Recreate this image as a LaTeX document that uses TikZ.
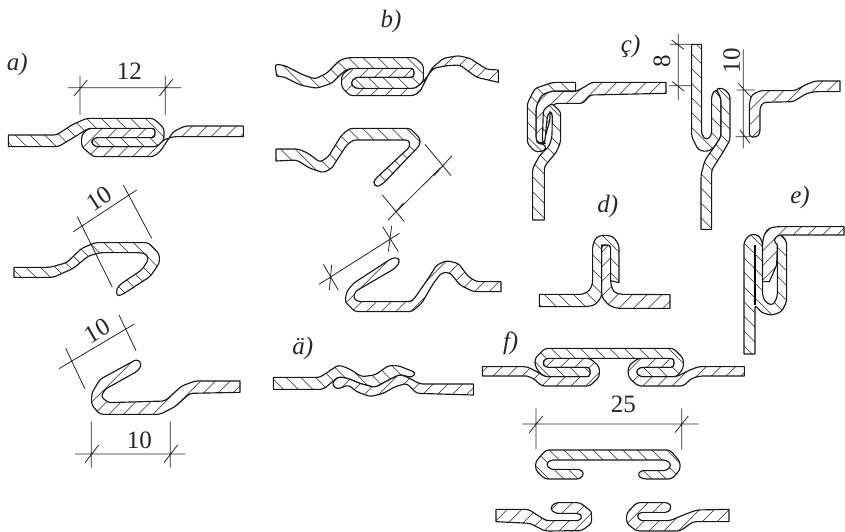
\documentclass[tikz,border=0pt]{standalone}
\usepackage{fontspec}
\setmainfont{Liberation Serif}
\tikzset{
  strip/.style={draw=black!90,fill=white,line width=1.15pt,line join=round,rounded corners=3pt},
  hl/.style={line width=.55pt,draw=black!85,sharp corners},
  ha/.style={strip,path picture={\foreach \k in {-16,...,16} \draw[hl,shift={(path picture bounding box.center)}] ({\k*44-500},-500) -- ({\k*44+500},500);}},
  hb/.style={strip,path picture={\foreach \k in {-16,...,16} \draw[hl,shift={(path picture bounding box.center)}] ({\k*44-500},500) -- ({\k*44+500},-500);}},
  dim/.style={draw=black!85,line width=.8pt},
  num/.style={font=\fontsize{25}{25}\selectfont,inner sep=0pt,text=black!85},
  tag/.style={font=\fontsize{25}{25}\selectfont\itshape,inner sep=0pt,text=black!85},
  zoomed/.style n args={2}{x=.33333pt,y=-.33333pt,shift={(#1*3,#2*3)}}
}
\def\sc{[sharp corners]}
\begin{document}
\begin{tikzpicture}[x=1pt,y=-1pt]
\useasboundingbox (0,0) rectangle (845,532);
% ---------- a) zoom (0,40)
\begin{scope}[zoomed={0}{40}]
\draw[hb] (730,258) -- (555,258) -- (520,275) -- (480,335) -- (460,350) -- (280,350) -- (245,320) -- (245,285) -- (265,265) -- (465,265) -- (465,293) -- (285,293) -- (272,305) -- (285,320) -- (470,320) -- (490,300) -- (520,290) -- (540,290) \sc -- (730,290) -- cycle;
\draw[ha] (25,285) -- (170,285) -- (215,255) -- (260,235) -- (460,235) -- (492,265) -- (492,300) -- (470,320) -- (285,320) -- (272,305) -- (285,293) -- (465,293) -- (465,265) -- (265,265) -- (225,290) -- (175,320) \sc -- (25,320) -- cycle;
\draw[dim] (205,143) -- (543,143) (240,107) -- (240,225) (496,107) -- (496,225) (222,168) -- (262,120) (478,168) -- (518,118);
\node[num] (n12) at (388,93) {12};
\node[tag] (la) at (52,72) {a)};
\end{scope}
% ---------- a) hooks zoom (0,180)
\begin{scope}[zoomed={0}{180}]
\draw[ha] (42,262) -- (150,262) -- (200,248) -- (245,205) -- (285,188) -- (445,188) -- (478,222) -- (478,250) -- (450,290) -- (365,345) -- (350,348) -- (350,325) -- (365,310) -- (425,270) -- (445,240) -- (440,222) -- (420,218) -- (300,218) -- (265,228) -- (220,265) -- (160,292) \sc -- (42,292) -- cycle;
\draw[dim] (220,155) -- (410,30) (232,110) -- (337,322) (370,15) -- (455,175);
\node[num,rotate=33] (n10a) at (298,55) {10};
\draw[hb] (720,603) -- (585,603) -- (545,618) -- (495,663) -- (325,668) -- (303,650) -- (315,628) -- (415,572) -- (425,552) -- (412,537) -- (300,598) -- (275,640) -- (275,675) -- (300,703) -- (480,703) -- (525,680) -- (570,640) \sc -- (720,637) -- cycle;
\draw[dim] (177,566) -- (403,432) (197,505) -- (255,627) (357,405) -- (408,512);
\node[num,rotate=30] (n10b) at (293,452) {10};
\draw[dim] (225,822) -- (555,822) (274,725) -- (274,863) (511,725) -- (511,863) (255,848) -- (296,795) (492,848) -- (533,795);
\node[num] (n10c) at (418,780) {10};
\end{scope}
% ---------- b) zoom (260,0)
\begin{scope}[zoomed={260}{0}]
\node[tag] (lb) at (393,65) {b)};
\draw[hb] (715,210) -- (680,208) -- (630,175) -- (595,167) -- (550,175) -- (515,205) -- (480,275) -- (460,287) -- (270,287) -- (245,262) -- (245,225) -- (270,205) -- (462,205) -- (462,232) -- (285,232) -- (272,250) -- (285,265) -- (465,265) -- (490,245) -- (520,205) -- (560,197) -- (600,195) -- (650,232) \sc -- (715,247) -- cycle;
\draw[ha] (50,228) -- (45,192) -- (75,197) -- (130,225) -- (165,237) -- (200,220) -- (240,180) -- (265,173) -- (465,173) -- (490,195) -- (490,245) -- (465,265) -- (285,265) -- (272,250) -- (285,232) -- (462,232) -- (462,205) -- (270,205) -- (250,215) -- (215,250) -- (170,265) -- (120,255) \sc -- (75,232) -- cycle;
\draw[ha] (48,447) -- (115,447) -- (145,460) -- (180,487) -- (205,470) -- (245,405) -- (270,385) -- (450,385) -- (480,415) -- (480,435) -- (370,550) -- (350,562) -- (340,550) -- (345,538) -- (450,440) -- (447,420) -- (280,420) -- (260,435) -- (215,505) -- (190,518) -- (150,505) -- (110,480) \sc -- (48,483) -- cycle;
\draw[dim] (408,636) -- (548,497) (367,585) -- (433,665) (385,660) -- (430,610) (495,433) -- (573,527) (522,527) -- (575,468);
\end{scope}
\begin{scope}[zoomed={300}{220}]
\draw[hb] (603,185) -- (530,185) -- (505,170) -- (475,130) -- (440,122) -- (410,135) -- (385,175) -- (340,240) -- (330,245) -- (175,245) -- (160,235) -- (165,215) -- (285,145) -- (300,125) -- (293,112) -- (275,115) -- (160,190) -- (140,215) -- (135,245) -- (165,275) -- (335,275) -- (365,250) -- (400,190) -- (425,158) -- (450,158) -- (480,195) -- (520,215) \sc -- (603,215) -- cycle;
\draw[dim] (57,193) -- (298,40) (70,133) -- (115,210) (88,210) -- (95,135) (248,20) -- (295,95) (265,95) -- (275,18);
\end{scope}
% ---------- c) zoom (510,20)
\begin{scope}[zoomed={510}{20}]
\node[tag] (lc) at (362,80) {ç)};
\draw[hb] (468,187) -- (245,187) -- (225,200) -- (197,215) -- (125,213) -- (95,225) -- (78,260) -- (78,365) -- (100,370) -- (120,300) -- (120,265) -- (135,250) -- (220,250) -- (240,225) \sc -- (468,220) -- cycle;
\draw[ha] (197,187) -- (130,187) -- (75,205) -- (52,250) -- (52,370) -- (75,395) -- (95,395) -- (110,385) -- (100,370) -- (85,373) -- (78,360) -- (78,260) -- (95,225) -- (125,213) \sc -- (197,213) -- cycle;
\draw[ha] (103,600) -- (103,440) -- (140,395) -- (152,365) -- (152,275) -- (125,250) -- (100,270) -- (97,370) -- (104,370) -- (112,290) -- (118,274) -- (127,280) -- (126,350) -- (118,378) -- (90,405) -- (68,445) \sc -- (68,600) -- cycle;
\draw[ha] (575,73) -- (575,345) -- (590,360) -- (605,345) -- (605,225) -- (618,207) -- (633,235) -- (633,350) -- (610,385) -- (590,395) -- (565,390) -- (545,350) \sc -- (545,73) -- cycle;
\draw[ha] (605,628) -- (605,450) -- (640,395) -- (660,360) -- (660,225) -- (640,205) -- (618,205) -- (633,235) -- (633,350) -- (610,385) -- (585,420) -- (573,465) \sc -- (573,628) -- cycle;
\draw[hb] (990,183) -- (915,183) -- (885,195) -- (855,212) -- (750,212) -- (725,225) -- (718,250) -- (718,350) -- (740,352) -- (750,340) -- (750,262) -- (760,247) -- (850,245) -- (890,220) -- (915,215) \sc -- (990,215) -- cycle;
\draw[dim] (505,42) -- (505,240) (480,73) -- (545,73) (477,197) -- (545,197) (485,60) -- (522,88) (487,185) -- (522,213);
\node[num,rotate=90] (n8) at (456,125) {8};
\draw[dim] (700,88) -- (700,385) (680,210) -- (735,210) (677,350) -- (720,350) (685,190) -- (722,230) (690,330) -- (720,370);
\node[num,rotate=90] (n10d) at (665,122) {10};
\node[tag] (ld) at (293,558) {d)};
\node[tag] (le) at (870,533) {e)};
\end{scope}
% ---------- d), e) zoom (520,190)
\begin{scope}[zoomed={520}{190}]
\draw[hb] (450,314) -- (300,313) -- (280,305) -- (272,280) -- (272,165) -- (245,165) -- (245,320) -- (265,345) -- (290,355) \sc -- (450,355) -- cycle;
\draw[ha] (58,313) -- (190,313) -- (210,300) -- (218,280) -- (218,165) -- (230,140) -- (255,135) -- (280,140) -- (297,165) \sc -- (297,278) -- (272,272) [rounded corners=3pt] -- (272,165) \sc -- (245,165) [rounded corners=3pt] -- (245,320) -- (225,345) -- (200,350) \sc -- (58,350) -- cycle;
\draw[ha] (705,492) -- (705,345) -- (725,368) -- (755,376) -- (785,365) -- (800,335) -- (800,155) -- (785,135) -- (765,130) -- (748,148) -- (772,165) -- (772,320) -- (760,345) -- (740,340) -- (728,320) -- (727,155) -- (715,135) -- (690,133) -- (672,155) \sc -- (672,492) -- cycle;
\draw[line width=1.1pt] (705,345) -- (705,165);
\draw[hb] (972,110) -- (770,110) -- (745,115) -- (732,135) -- (728,155) \sc -- (728,275) -- (748,275) -- (770,225) -- (772,165) [rounded corners=3pt] -- (760,150) -- (775,135) \sc -- (972,135) -- cycle;
\end{scope}
% ---------- f) zoom (470,330)
\begin{scope}[zoomed={470}{330}]
\node[tag] (lf) at (122,40) {f)};
\draw[hb] (37,110) -- (170,110) -- (195,122) -- (225,140) -- (360,140) -- (360,112) -- (225,112) -- (218,100) -- (225,85) -- (360,85) -- (388,110) -- (388,140) -- (360,168) -- (215,168) -- (190,145) \sc -- (170,138) -- (37,138) -- cycle;
\draw[hb] (823,110) -- (685,110) -- (655,122) -- (620,140) -- (510,140) -- (497,125) -- (510,112) -- (612,112) -- (612,85) -- (505,85) -- (478,105) -- (473,125) -- (478,145) -- (505,168) -- (640,168) -- (665,145) -- (690,138) \sc -- (823,138) -- cycle;
\draw[ha] (225,55) -- (610,55) -- (640,85) -- (640,115) -- (620,140) -- (510,140) -- (497,125) -- (510,112) -- (612,112) -- (612,85) -- (225,85) -- (218,100) -- (225,112) -- (360,112) -- (360,140) -- (225,140) -- (205,125) -- (195,105) -- (195,85) -- cycle;
\draw[dim] (157,282) -- (685,282) (198,235) -- (198,358) (635,235) -- (635,358) (178,308) -- (218,258) (615,308) -- (655,258);
\node[num] (n25) at (460,222) {25};
\draw[ha] (228,360) -- (600,360) -- (630,395) -- (630,420) -- (605,447) -- (520,447) -- (503,438) -- (510,422) -- (590,422) -- (605,405) -- (590,390) -- (240,390) -- (228,403) -- (240,418) -- (330,418) -- (343,430) -- (330,447) -- (225,447) -- (197,420) -- (197,395) -- cycle;
\end{scope}
\begin{scope}[zoomed={480}{480}]
\draw[hb] (48,88) -- (145,88) -- (195,120) -- (205,122) -- (300,122) -- (307,108) -- (295,100) -- (225,100) -- (210,85) -- (225,68) -- (300,68) -- (335,95) -- (335,130) -- (305,152) -- (195,153) -- (150,130) \sc -- (48,125) -- cycle;
\draw[hb] (747,88) -- (650,90) -- (610,105) -- (570,122) -- (480,122) -- (470,108) -- (480,97) -- (565,97) -- (575,80) -- (565,68) -- (470,68) -- (440,100) -- (440,130) -- (470,153) -- (600,153) -- (640,125) \sc -- (747,125) -- cycle;
\end{scope}
% ---------- ä) zoom (260,330)
\begin{scope}[zoomed={260}{330}]
\node[tag] (lae) at (128,55) {ä)};
\draw[hb] (640,162) -- (480,162) -- (445,143) -- (420,133) -- (385,150) -- (345,172) -- (300,160) -- (265,145) -- (235,140) -- (215,160) -- (230,178) -- (265,165) -- (290,185) -- (330,200) -- (370,190) -- (405,170) -- (440,160) -- (470,190) \sc -- (640,195) -- cycle;
\draw[ha] (40,142) -- (180,142) -- (235,105) -- (265,115) -- (305,140) -- (345,135) -- (385,107) -- (415,107) -- (468,128) -- (455,143) -- (420,133) -- (385,150) -- (345,172) -- (300,160) -- (265,145) -- (235,140) -- (190,178) \sc -- (40,178) -- cycle;
\end{scope}
\end{tikzpicture}
\end{document}
